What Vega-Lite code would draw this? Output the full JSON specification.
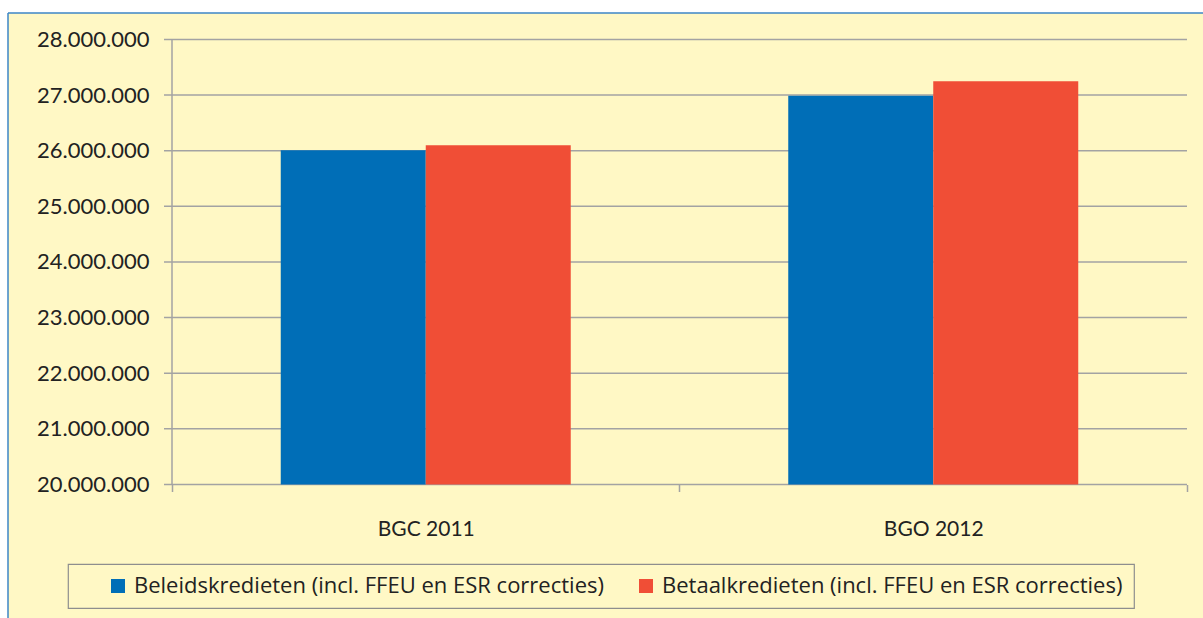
{
  "$schema": "https://vega.github.io/schema/vega-lite/v6.json",
  "width": 1195,
  "height": 605,
  "autosize": {"type": "none"},
  "padding": {"left": 8, "top": 13, "right": 0, "bottom": 0},
  "background": "white",
  "config": {
    "view": {"fill": "#FFF8C5", "stroke": null},
    "font": "Lato",
    "axis": {"labelFont": "Lato", "labelColor": "#222222", "grid": false},
    "legend": {"strokeWidth": 1.2}
  },
  "resolve": {"scale": {"x": "independent"}},
  "layer": [
    {
      "data": {"values": [
        {"tick": 20000000}, {"tick": 21000000}, {"tick": 22000000},
        {"tick": 23000000}, {"tick": 24000000}, {"tick": 25000000},
        {"tick": 26000000}, {"tick": 27000000}, {"tick": 28000000}
      ]},
      "mark": {"type": "rule", "color": "#A3A3A3", "strokeWidth": 1.5},
      "encoding": {
        "y": {
          "field": "tick", "type": "quantitative",
          "scale": {"domain": [17600000, 28476400], "nice": false, "zero": false},
          "axis": {
            "orient": "left", "offset": -164,
            "values": [20000000, 21000000, 22000000, 23000000, 24000000, 25000000, 26000000, 27000000, 28000000],
            "domain": false, "ticks": false, "tickSize": 0, "grid": false,
            "labelPadding": 23, "labelFontSize": 22,
            "labelExpr": "replace(replace(format(datum.value, ',d'), ',', '.'), ',', '.')",
            "title": null
          }
        },
        "x": {"datum": -0.015764, "type": "quantitative", "scale": {"domain": [-0.323153, 2.031527], "nice": false, "zero": false}, "axis": null},
        "x2": {"datum": 2}
      }
    },
    {
      "data": {"values": [{}]},
      "mark": {"type": "rule", "color": "#A3A3A3", "strokeWidth": 1.5},
      "encoding": {
        "x": {"datum": 0, "type": "quantitative", "scale": {"domain": [-0.323153, 2.031527], "nice": false, "zero": false}, "axis": null},
        "y": {
          "datum": 20000000, "type": "quantitative",
          "scale": {"domain": [17600000, 28476400], "nice": false, "zero": false},
          "axis": {
            "orient": "left", "offset": -164,
            "values": [20000000, 21000000, 22000000, 23000000, 24000000, 25000000, 26000000, 27000000, 28000000],
            "domain": false, "ticks": false, "tickSize": 0, "grid": false,
            "labelPadding": 23, "labelFontSize": 22,
            "labelExpr": "replace(replace(format(datum.value, ',d'), ',', '.'), ',', '.')",
            "title": null
          }
        },
        "y2": {"datum": 28000000}
      }
    },
    {
      "data": {"values": [{}]},
      "mark": {"type": "rule", "color": "#3C86C6", "strokeWidth": 1.5},
      "encoding": {
        "x": {"datum": -0.323153, "type": "quantitative", "scale": {"domain": [-0.323153, 2.031527], "nice": false, "zero": false}, "axis": null},
        "x2": {"datum": 2.031527},
        "y": {
          "datum": 28476400, "type": "quantitative",
          "scale": {"domain": [17600000, 28476400], "nice": false, "zero": false},
          "axis": {
            "orient": "left", "offset": -164,
            "values": [20000000, 21000000, 22000000, 23000000, 24000000, 25000000, 26000000, 27000000, 28000000],
            "domain": false, "ticks": false, "tickSize": 0, "grid": false,
            "labelPadding": 23, "labelFontSize": 22,
            "labelExpr": "replace(replace(format(datum.value, ',d'), ',', '.'), ',', '.')",
            "title": null
          }
        }
      }
    },
    {
      "data": {"values": [{}]},
      "mark": {"type": "rule", "color": "#3C86C6", "strokeWidth": 1.5},
      "encoding": {
        "x": {"datum": -0.323153, "type": "quantitative", "scale": {"domain": [-0.323153, 2.031527], "nice": false, "zero": false}, "axis": null},
        "y": {
          "datum": 17600000, "type": "quantitative",
          "scale": {"domain": [17600000, 28476400], "nice": false, "zero": false},
          "axis": {
            "orient": "left", "offset": -164,
            "values": [20000000, 21000000, 22000000, 23000000, 24000000, 25000000, 26000000, 27000000, 28000000],
            "domain": false, "ticks": false, "tickSize": 0, "grid": false,
            "labelPadding": 23, "labelFontSize": 22,
            "labelExpr": "replace(replace(format(datum.value, ',d'), ',', '.'), ',', '.')",
            "title": null
          }
        },
        "y2": {"datum": 28476400}
      }
    },
    {
      "data": {"values": [
        {"cat": "BGC 2011", "series": "Beleidskredieten (incl. FFEU en ESR correcties)", "value": 26010000},
        {"cat": "BGC 2011", "series": "Betaalkredieten (incl. FFEU en ESR correcties)", "value": 26100000},
        {"cat": "BGO 2012", "series": "Beleidskredieten (incl. FFEU en ESR correcties)", "value": 26990000},
        {"cat": "BGO 2012", "series": "Betaalkredieten (incl. FFEU en ESR correcties)", "value": 27250000}
      ]},
      "mark": {"type": "bar"},
      "encoding": {
        "x": {
          "field": "cat", "type": "nominal", "sort": null,
          "scale": {"paddingInner": 0, "paddingOuter": 0.17734, "align": 0.9111},
          "axis": {
            "orient": "bottom", "offset": -133.5, "domain": false,
            "ticks": true, "tickSize": 7, "tickColor": "#A3A3A3", "tickWidth": 1.5,
            "tickBand": "extent", "labelPadding": 27, "labelFontSize": 21,
            "labelAngle": 0, "title": null, "grid": false
          }
        },
        "xOffset": {"field": "series", "type": "nominal", "sort": null, "scale": {"paddingInner": 0, "paddingOuter": 0.75}},
        "y": {
          "field": "value", "type": "quantitative", "stack": null,
          "scale": {"domain": [17600000, 28476400], "nice": false, "zero": false},
          "axis": {
            "orient": "left", "offset": -164,
            "values": [20000000, 21000000, 22000000, 23000000, 24000000, 25000000, 26000000, 27000000, 28000000],
            "domain": false, "ticks": false, "tickSize": 0, "grid": false,
            "labelPadding": 23, "labelFontSize": 22,
            "labelExpr": "replace(replace(format(datum.value, ',d'), ',', '.'), ',', '.')",
            "title": null
          }
        },
        "y2": {"datum": 20000000},
        "color": {
          "field": "series", "type": "nominal", "sort": null,
          "scale": {
            "domain": ["Beleidskredieten (incl. FFEU en ESR correcties)", "Betaalkredieten (incl. FFEU en ESR correcties)"],
            "range": ["#006EB7", "#F04E36"]
          },
          "legend": {
            "orient": "none", "legendX": 60, "legendY": 551,
            "direction": "horizontal", "columns": 2, "title": null,
            "symbolType": "square", "symbolSize": 196, "symbolStrokeWidth": 0,
            "labelFont": "Open Sans", "labelFontSize": 22, "labelColor": "#222222",
            "labelOffset": 5, "columnPadding": 3, "padding": 11,
            "strokeColor": "#8E8E8E", "labelLimit": 0, "symbolOffset": 28
          }
        }
      }
    }
  ]
}
